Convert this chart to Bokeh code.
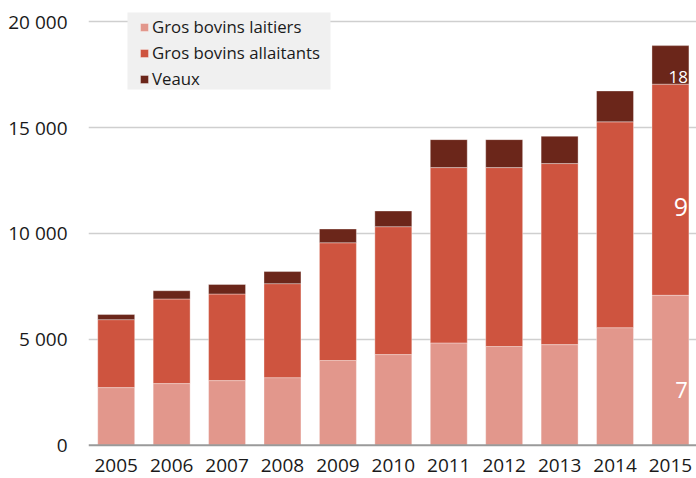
from bokeh.plotting import figure
from bokeh.models import (ColumnDataSource, Legend, LegendItem, FixedTicker,
                          Range1d, Span, BoxAnnotation)
from bokeh.core.properties import value
from bokeh.embed import file_html
from bokeh.resources import INLINE

years = [2005, 2006, 2007, 2008, 2009, 2010, 2011, 2012, 2013, 2014, 2015]
laitiers = [2720, 2910, 3050, 3190, 4000, 4280, 4830, 4660, 4750, 5550, 7080]
allaitants = [3210, 3995, 4090, 4440, 5560, 6040, 8280, 8450, 8550, 9720, 9970]
veaux = [240, 390, 450, 570, 650, 740, 1320, 1320, 1290, 1460, 1820]
series_names = ["Gros bovins laitiers", "Gros bovins allaitants", "Veaux"]
colors = ["#E2978C", "#CE543F", "#6B261A"]
y_ticks = [0, 5000, 10000, 15000, 20000]
y_tick_labels = ["0", "5 000", "10 000", "15 000", "20 000"]
year_labels = [str(y) for y in years]
# visible (clipped) labels on the last bar
last_labels = ["7", "9", "18"]

FONT = "Open Sans"
BAR_W = 0.667

source = ColumnDataSource(dict(year=years, laitiers=laitiers,
                               allaitants=allaitants, veaux=veaux))

p = figure(frame_width=608, frame_height=478, output_backend="svg",
           toolbar_location=None,
           x_range=Range1d(2004.5, 2015.47), y_range=Range1d(-1573, 21001),
           min_border_left=88, min_border_right=0, min_border_top=0,
           min_border_bottom=0)
p.outline_line_color = None
p.background_fill_color = "white"

renderers = p.vbar_stack(["laitiers", "allaitants", "veaux"], x="year",
                         width=BAR_W, color=colors, line_color="white",
                         line_alpha=0.35, line_width=1, source=source)

# baseline (x axis line)
p.add_layout(Span(location=0, dimension="width", line_color="#9a9a9a",
                  line_width=2))

# year labels under the bars
yl_src = ColumnDataSource(dict(x=years, y=[0] * len(years), text=year_labels))
p.text(x="x", y="y", text="text", source=yl_src, text_color="#1a1a1a",
       text_font=value(FONT), text_font_size="19px", text_align="center",
       text_baseline="middle", y_offset=20)

# labels in the last bar (clipped by the plot edge in the original)
i = len(years) - 1
bottoms = [0, laitiers[i], laitiers[i] + allaitants[i]]
tops = [laitiers[i], laitiers[i] + allaitants[i],
        laitiers[i] + allaitants[i] + veaux[i]]
mids = [(b + t) / 2 for b, t in zip(bottoms, tops)]
lab_src = ColumnDataSource(dict(x=[years[i] + BAR_W / 2] * 3, y=mids,
                                text=last_labels,
                                size=["22px", "25px", "17px"],
                                dy=[20, 17, 12]))
p.text(x="x", y="y", text="text", source=lab_src, text_color="white",
       text_font=value(FONT), text_font_size="size", text_align="right",
       text_baseline="middle", x_offset=-1, y_offset="dy")

# axes
p.xaxis.visible = False
p.yaxis.ticker = FixedTicker(ticks=y_ticks)
p.yaxis.major_label_overrides = {t: l for t, l in zip(y_ticks, y_tick_labels)}
p.yaxis.axis_line_color = None
p.yaxis.major_tick_line_color = None
p.yaxis.minor_tick_line_color = None
p.yaxis.major_label_text_font = FONT
p.yaxis.major_label_text_font_size = "19px"
p.yaxis.major_label_text_color = "#1a1a1a"
p.yaxis.major_label_standoff = 15

p.xgrid.grid_line_color = None
p.ygrid.ticker = FixedTicker(ticks=y_ticks[1:])
p.ygrid.grid_line_color = "#cfcfcf"
p.ygrid.grid_line_width = 1.5

# legend background panel
p.add_layout(BoxAnnotation(left=127, right=330, top=12, bottom=89,
                           left_units="canvas", right_units="canvas",
                           top_units="canvas", bottom_units="canvas",
                           fill_color="#f0f0f0", fill_alpha=1,
                           line_color=None))

legend = Legend(items=[LegendItem(label=n, renderers=[r])
                       for n, r in zip(series_names, renderers)],
                location=(51, 388), orientation="vertical",
                background_fill_alpha=0, border_line_color=None,
                padding=3, margin=0, spacing=3,
                label_height=22, glyph_height=10, glyph_width=10,
                label_standoff=3, label_text_font=FONT,
                label_text_font_size="16.8px", label_text_color="#1a1a1a")
p.add_layout(legend, "center")

open("out.html", "w").write(file_html(p, INLINE))
